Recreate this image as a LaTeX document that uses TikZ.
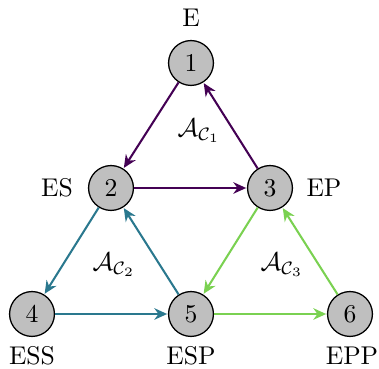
\documentclass[tikz,border=0pt]{standalone}
\usetikzlibrary{arrows.meta}
\definecolor{cA}{HTML}{440154}
\definecolor{cB}{HTML}{2A788E}
\definecolor{cC}{HTML}{7AD151}
\begin{document}
\begin{tikzpicture}[x=0.39pt,y=-0.39pt,
  state/.style={circle,draw=black,line width=0.5pt,fill=black!25,minimum size=17.5pt,inner sep=0pt},
  lab/.style={inner sep=0pt},
  edge/.style={line width=0.8pt,-{Stealth[length=5pt,width=4.5pt]},shorten >=0.3pt}]
\useasboundingbox (0,0) rectangle (379,369);
\node[state] (n1) at (191,63) {1};
\node[state] (n2) at (111,188) {2};
\node[state] (n3) at (270,188) {3};
\node[state] (n4) at (32,314) {4};
\node[state] (n5) at (191,314) {5};
\node[state] (n6) at (350,314) {6};
\node[lab] (l1) at (191,18) {E};
\node[lab] (l2) at (57,188) {ES};
\node[lab] (l3) at (324,188) {EP};
\node[lab] (l4) at (32,356) {ESS};
\node[lab] (l5) at (191,356) {ESP};
\node[lab] (l6) at (352,356) {EPP};
\node[lab] (a1) at (199,131) {$\mathcal{A}_{\mathcal{C}_1}$};
\node[lab] (a2) at (114,265) {$\mathcal{A}_{\mathcal{C}_2}$};
\node[lab] (a3) at (282,265) {$\mathcal{A}_{\mathcal{C}_3}$};
\draw[edge,cA] (n1) -- (n2);
\draw[edge,cA] (n2) -- (n3);
\draw[edge,cA] (n3) -- (n1);
\draw[edge,cB] (n2) -- (n4);
\draw[edge,cB] (n4) -- (n5);
\draw[edge,cB] (n5) -- (n2);
\draw[edge,cC] (n3) -- (n5);
\draw[edge,cC] (n5) -- (n6);
\draw[edge,cC] (n6) -- (n3);
\end{tikzpicture}
\end{document}
